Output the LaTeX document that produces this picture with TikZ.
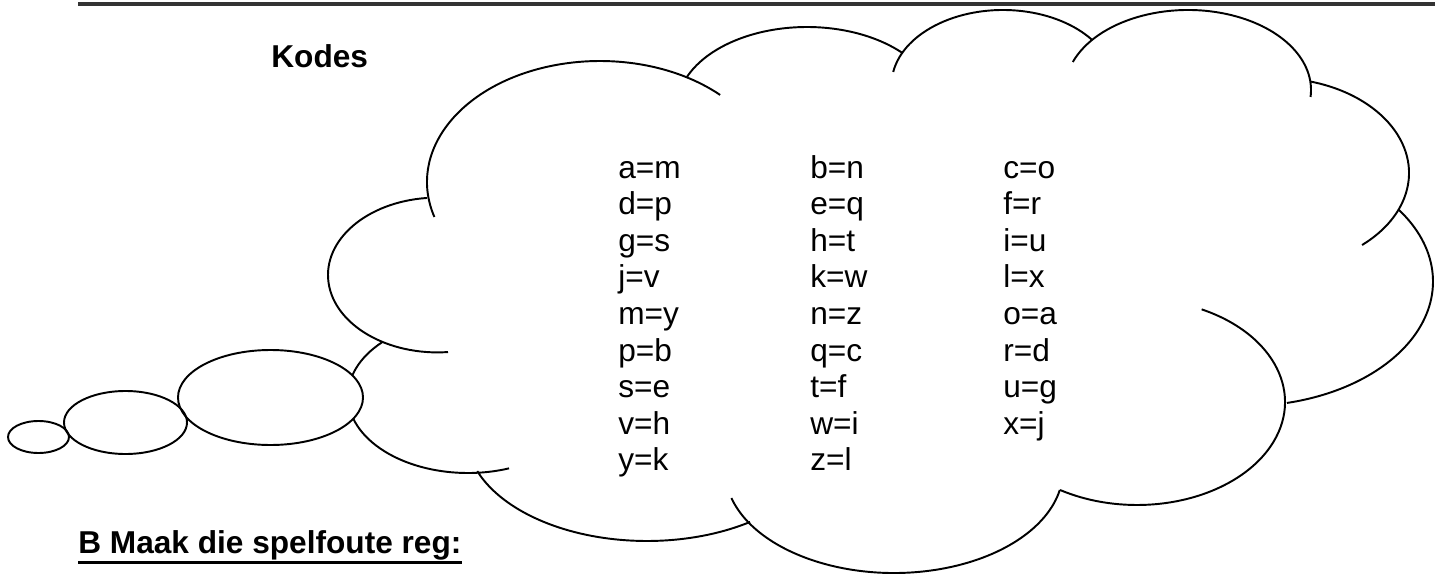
\documentclass[tikz,border=0pt]{standalone}
\usepackage{fontspec}
\setmainfont{Liberation Sans}
\newcommand\cloudlobe[6]{%
  \draw[cloudline] ([shift={(#5:#3 and #4)}]#1,-#2) arc[start angle=#5,end angle=#6,x radius=#3,y radius=#4];}
\begin{document}
\begin{tikzpicture}[x=0.02cm,y=0.02cm,line join=round,
  cloudline/.style={line width=1.1pt,black},
  bubble/.style={line width=1.1pt,black},
  topline/.style={line width=1.9pt,black!80},
  codetext/.style={font=\fontsize{18pt}{20.75pt}\selectfont,anchor=base west,inner sep=0pt},
  headtext/.style={font=\fontsize{18pt}{20.75pt}\selectfont\bfseries,anchor=base west,inner sep=0pt}]
\useasboundingbox (0,0) rectangle (1442,-574);
% top rule
\coordinate (tl) at (78,-4);
\coordinate (tr) at (1435,-4);
\draw[topline] (tl) -- (tr);
% heading
\node[headtext] (kodes) at (271,-68) {Kodes};
% cloud lobes: cx, cy(px), rx, ry, start, end
\cloudlobe{437.5}{275}{109.5}{77.4}{95.5}{275.5}
\cloudlobe{600}{182}{173}{121}{196.8}{46}
\cloudlobe{807}{108}{130}{81}{157.5}{42.9}
\cloudlobe{1003}{85}{111.5}{75}{170}{36.9}
\cloudlobe{1188}{90}{123}{80}{159.5}{-5}
\cloudlobe{1274}{173}{135}{95}{74.5}{-49.3}
\cloudlobe{1245}{281.5}{188}{124.6}{35.2}{-77.1}
\cloudlobe{1137}{402}{148}{103}{64.1}{-121.3}
\cloudlobe{894}{470}{169}{103}{-164.2}{-11.2}
\cloudlobe{647}{434}{181}{107}{-55.3}{-159.7}
\cloudlobe{468}{396}{120}{77}{135.6}{290}
% thought bubbles
\draw[bubble,fill=white] (270.5,-397.5) ellipse[x radius=92.5,y radius=47.5];
\draw[bubble] (125.5,-422.5) ellipse[x radius=61.5,y radius=31.5];
\draw[bubble] (38.5,-437) ellipse[x radius=30.5,y radius=16];
% code table
\foreach \t [count=\i from 0] in {a=m,d=p,g=s,j=v,m=y,p=b,s=e,v=h,y=k}
  \node[codetext] (ca\i) at (618,{-178-36.6*\i}) {\t};
\foreach \t [count=\i from 0] in {b=n,e=q,h=t,k=w,n=z,q=c,t=f,w=i,z=l}
  \node[codetext] (cb\i) at (810,{-178-36.6*\i}) {\t};
\foreach \t [count=\i from 0] in {c=o,f=r,i=u,l=x,o=a,r=d,u=g,x=j}
  \node[codetext] (cc\i) at (1003,{-178-36.6*\i}) {\t};
% exercise heading
\node[headtext] (bmaak) at (78,-553) {B Maak die spelfoute reg:};
\draw[line width=1.7pt] ([yshift=-0.19cm]bmaak.base west) -- ([yshift=-0.19cm]bmaak.base east);
\end{tikzpicture}
\end{document}
